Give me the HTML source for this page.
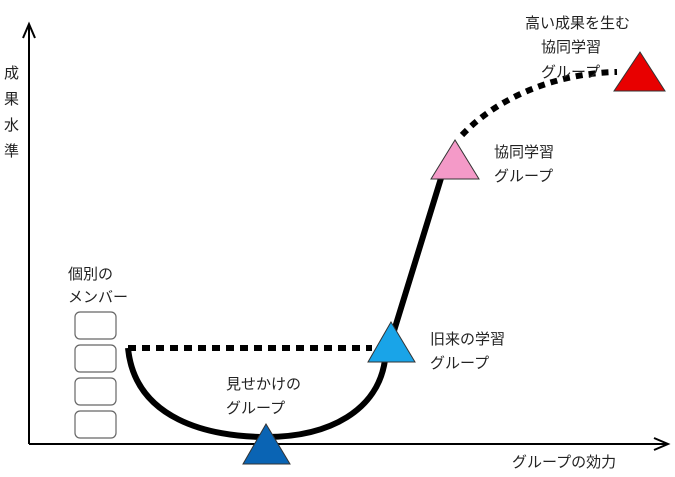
<!DOCTYPE html>
<html><head><meta charset="utf-8"><style>
html,body{margin:0;padding:0;background:#fff;}
svg text{font-family:"Liberation Sans","Noto Sans CJK JP",sans-serif;font-size:15px;fill:#222;}
</style></head><body>
<svg width="675" height="472" viewBox="0 0 675 472" xmlns="http://www.w3.org/2000/svg">
<line x1="29" y1="444" x2="29" y2="24" stroke="#000" stroke-width="2"/>
<polyline points="23,38 29,24 35,38" fill="none" stroke="#000" stroke-width="2"/>
<line x1="29" y1="444" x2="668" y2="444" stroke="#000" stroke-width="2"/>
<polyline points="654,438 668,444 654,450" fill="none" stroke="#000" stroke-width="2"/>
<g fill="#fff" stroke="#666" stroke-width="1.2">
<rect x="75" y="312" width="41" height="27" rx="5"/>
<rect x="75" y="345" width="41" height="27" rx="5"/>
<rect x="75" y="378" width="41" height="27" rx="5"/>
<rect x="75" y="411" width="41" height="27" rx="5"/>
</g>
<line x1="128" y1="348" x2="372" y2="348" stroke="#000" stroke-width="6" stroke-dasharray="8,6"/>
<path d="M128,348 C135,420 210,437 266,437 C330,437 378,410 385,360 L442,175" fill="none" stroke="#000" stroke-width="6"/>
<path d="M462,135 C500,95 560,73 617,72" fill="none" stroke="#000" stroke-width="6" stroke-dasharray="7,6"/>
<polygon points="266,424 243,464 290,464" fill="#0a64b4" stroke="#333" stroke-width="1"/>
<polygon points="391,322 368,362 415,362" fill="#19a4e8" stroke="#333" stroke-width="1"/>
<polygon points="455,140 431,179 479,179" fill="#f49ac8" stroke="#333" stroke-width="1"/>
<polygon points="640,52 614,91 665,91" fill="#e80000" stroke="#333" stroke-width="1"/>
<text x="4" y="78">成</text><text x="4" y="104">果</text><text x="4" y="130">水</text><text x="4" y="156">準</text>
<text x="68" y="279">個別の</text><text x="68" y="302">メンバー</text>
<text x="226" y="389">見せかけの</text><text x="226" y="413">グループ</text>
<text x="430" y="344">旧来の学習</text><text x="430" y="368">グループ</text>
<text x="494" y="157">協同学習</text><text x="494" y="181">グループ</text>
<text x="525" y="28">高い成果を生む</text><text x="541" y="52">協同学習</text><text x="541" y="77">グループ</text>
<text x="512" y="467">グループの効力</text>
</svg>
</body></html>
